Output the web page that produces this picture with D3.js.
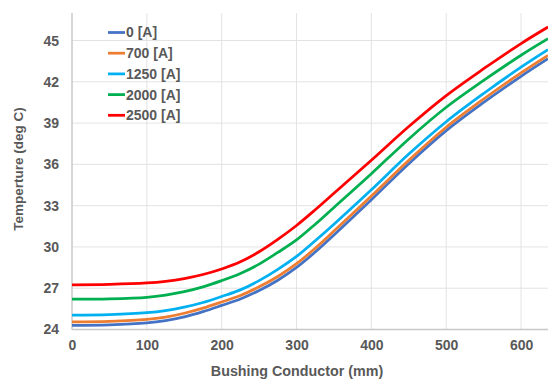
<!DOCTYPE html>
<html>
<head>
<meta charset="utf-8">
<script src="https://cdn.jsdelivr.net/npm/d3@7"></script>
<style>
  body { margin: 0; background: #fff; }
  svg text { font-family: "Liberation Sans", Arial, sans-serif; font-weight: bold; fill: #595959; }
</style>
</head>
<body>
<div id="chart"></div>
<script>
// positions along the conductor (mm)
var positions = [0, 50, 100, 125, 150, 175, 200, 225, 250, 275, 300, 325, 350, 400, 450, 500, 550, 600, 636];

var temp0 = [24.30, 24.34, 24.48, 24.65, 24.92, 25.30, 25.75, 26.22, 26.83, 27.58, 28.51, 29.63, 30.87, 33.43, 36.05, 38.45, 40.50, 42.40, 43.68];
var temp700 = [24.55, 24.59, 24.73, 24.90, 25.18, 25.55, 26.00, 26.47, 27.10, 27.85, 28.78, 29.90, 31.15, 33.70, 36.30, 38.70, 40.75, 42.65, 43.92];
var temp1250 = [25.05, 25.09, 25.22, 25.37, 25.62, 25.96, 26.40, 26.88, 27.55, 28.37, 29.31, 30.45, 31.65, 34.15, 36.75, 39.10, 41.15, 43.06, 44.33];
var temp2000 = [26.20, 26.23, 26.34, 26.50, 26.75, 27.10, 27.55, 28.07, 28.75, 29.60, 30.51, 31.65, 32.87, 35.32, 37.85, 40.15, 42.10, 43.93, 45.13];
var temp2500 = [27.25, 27.28, 27.38, 27.50, 27.70, 28.00, 28.40, 28.92, 29.65, 30.55, 31.56, 32.70, 33.90, 36.30, 38.75, 41.00, 42.95, 44.78, 45.98];

var seriesNames = ["0 [A]", "700 [A]", "1250 [A]", "2000 [A]", "2500 [A]"];
var seriesColors = ["#4472C4", "#ED7D31", "#00B0F0", "#00B050", "#FF0000"];
var xTicks = [0, 100, 200, 300, 400, 500, 600];
var yTicks = [24, 27, 30, 33, 36, 39, 42, 45];

var series = [temp0, temp700, temp1250, temp2000, temp2500].map(function (vals, i) {
  return { name: seriesNames[i], color: seriesColors[i],
           points: vals.map(function (v, j) { return { x: positions[j], y: v }; }) };
});

var W = 548, H = 380;
var svg = d3.select("#chart").append("svg")
  .attr("width", W)
  .attr("height", H);

var x = d3.scaleLinear().domain([0, 636]).range([72, 548]);
var y = d3.scaleLinear().domain([24, 47]).range([329.5, 13]);

// gridlines
svg.append("g").selectAll("line")
  .data(yTicks.slice(1))
  .enter().append("line")
  .attr("x1", x(0)).attr("x2", W)
  .attr("y1", function (d) { return y(d); })
  .attr("y2", function (d) { return y(d); })
  .style("stroke", "#e3e3e3").style("stroke-width", 1);

svg.append("g").selectAll("line")
  .data(xTicks.slice(1))
  .enter().append("line")
  .attr("y1", y(24)).attr("y2", y(47))
  .attr("x1", function (d) { return x(d); })
  .attr("x2", function (d) { return x(d); })
  .style("stroke", "#e3e3e3").style("stroke-width", 1);

// axes
var xAxis = d3.axisBottom(x).tickValues(xTicks).tickSize(0).tickPadding(11);
var yAxis = d3.axisLeft(y).tickValues(yTicks).tickSize(0).tickPadding(13);

var gx = svg.append("g")
  .attr("transform", "translate(0," + y(24) + ")")
  .call(xAxis);
gx.select(".domain").remove();
gx.selectAll("text").style("font-size", "14px");

var gy = svg.append("g")
  .attr("transform", "translate(" + x(0) + ",0)")
  .call(yAxis);
gy.select(".domain").remove();
gy.selectAll("text").style("font-size", "14px");

svg.append("line")
  .attr("x1", x(0)).attr("x2", W)
  .attr("y1", y(24)).attr("y2", y(24))
  .style("stroke", "#c8c8c8").style("stroke-width", 1.5);
svg.append("line")
  .attr("x1", x(0)).attr("x2", x(0))
  .attr("y1", y(24)).attr("y2", y(47))
  .style("stroke", "#c8c8c8").style("stroke-width", 1.5);

// lines
var line = d3.line()
  .x(function (d) { return x(d.x); })
  .y(function (d) { return y(d.y); })
  .curve(d3.curveCatmullRom.alpha(0.5));

svg.selectAll(".series")
  .data(series)
  .enter().append("path")
  .attr("class", "series")
  .attr("d", function (d) { return line(d.points); })
  .style("fill", "none")
  .style("stroke", function (d) { return d.color; })
  .style("stroke-width", 2.75)
  .style("stroke-linejoin", "round");

// legend
var legend = svg.append("g").selectAll("g")
  .data(series)
  .enter().append("g")
  .attr("transform", function (d, i) { return "translate(108," + (32.5 + i * 20.7) + ")"; });

legend.append("line")
  .attr("x1", 0).attr("x2", 17)
  .style("stroke", function (d) { return d.color; })
  .style("stroke-width", 2.75);

legend.append("text")
  .attr("x", 18)
  .attr("dy", "0.35em")
  .style("font-size", "14px")
  .text(function (d) { return d.name; });

// axis titles
svg.append("text")
  .attr("x", 297)
  .attr("y", 376)
  .attr("text-anchor", "middle")
  .style("font-size", "14.3px")
  .text("Bushing Conductor (mm)");

svg.append("text")
  .attr("transform", "translate(23,169) rotate(-90)")
  .attr("text-anchor", "middle")
  .style("font-size", "13.5px")
  .text("Temperture (deg C)");
</script>
</body>
</html>
